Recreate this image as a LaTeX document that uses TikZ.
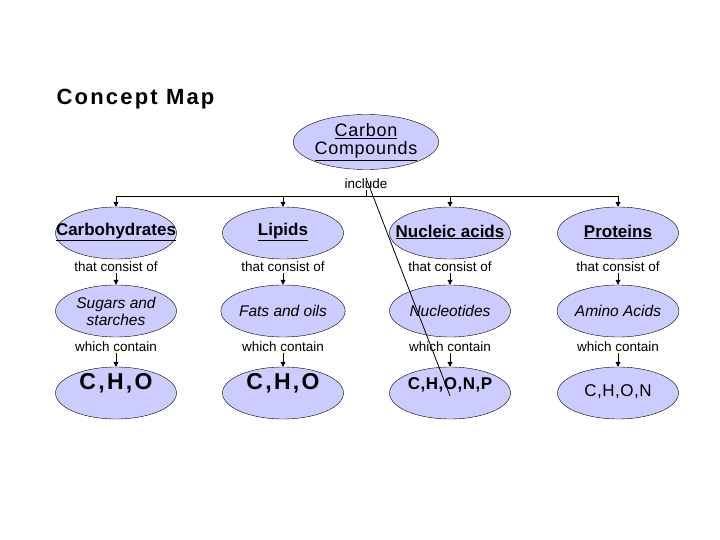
\documentclass[tikz,border=0pt]{standalone}
\usepackage{fontspec}
\setmainfont{Liberation Sans}
\usetikzlibrary{shapes.geometric,arrows.meta}
\definecolor{fillc}{RGB}{204,204,255}
\tikzset{
 ell/.style={ellipse,draw=black,fill=fillc,minimum width=121pt,minimum height=52pt,inner sep=0pt,align=center},
 lbl/.style={font=\fontsize{13.5}{14}\selectfont,inner sep=1pt},
 arr/.style={-{Triangle[length=5pt,width=5pt]},thick},
 head/.style={font=\fontsize{17}{19}\selectfont\bfseries},
}
\newcommand{\ul}[1]{\underline{#1}}
\begin{document}
\begin{tikzpicture}[x=1pt,y=-1pt]
\useasboundingbox (0,0) rectangle (720,540);
\node[anchor=west,font=\fontsize{22}{24}\selectfont\bfseries\addfontfeatures{LetterSpace=10}] (title) at (53,99) {Concept Map};
\node[ell,minimum width=141pt,minimum height=55pt,font=\fontsize{18}{20}\selectfont\addfontfeatures{LetterSpace=4}] (cc) at (366,142) {\ul{Carbon}\\[-2pt]\ul{Compounds}};
\node[lbl] (inc) at (366,184) {include};
\coordinate (jn) at (366,196);
\foreach \n/\x/\h/\m/\c/\cf/\cy in {a/116/Carbohydrates/{Sugars and\\starches}/{C,H,O}/{\fontsize{23}{24}\selectfont\bfseries\addfontfeatures{LetterSpace=10}}/383,
  b/283/Lipids/Fats and oils/{C,H,O}/{\fontsize{23}{24}\selectfont\bfseries\addfontfeatures{LetterSpace=10}}/383,
  c/450/Nucleic acids/Nucleotides/{C,H,O,N,P}/{\fontsize{17}{18}\selectfont\bfseries\addfontfeatures{LetterSpace=3}}/385,
  d/618/Proteins/Amino Acids/{C,H,O,N}/{\fontsize{17}{18}\selectfont\addfontfeatures{LetterSpace=3}}/392}{
  \node[ell] (\n1) at (\x,233) {};
  \node[head] (\n h) at (\x,232) {\ul{\h}};
  \node[lbl] (\n t) at (\x,267) {that consist of};
  \node[ell,font=\fontsize{15.5}{17}\selectfont\itshape] (\n2) at (\x,311) {\m};
  \node[lbl] (\n w) at (\x,347) {which contain};
  \node[ell] (\n3) at (\x,393) {};
  \node[font=\cf] (\n c) at (\x,\cy) {\c};
  \draw[arr] (\n t.south) -- (\n2.north);
  \draw[arr] (\n w.south) -- (\n3.north);
  \draw[arr] (\x,196) -- (\n1.north);
}
\draw[thick] (cc.south) -- (inc.north);
\draw[thick] (inc.south) -- (jn);
\draw[thick] (116,196) -- (618,196);
\end{tikzpicture}
\end{document}
